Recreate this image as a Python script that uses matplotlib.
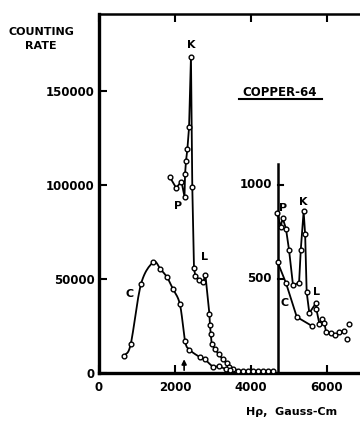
import numpy as np
import matplotlib
matplotlib.use("Agg")
import matplotlib.pyplot as plt

# ---------------- data ----------------
# main scale: counting rate vs H-rho (Gauss-cm)
main_c_x = [660, 835, 1105, 1430, 1615, 1790, 1945, 2130, 2265, 2380, 2650, 2790, 3000, 3160, 3330, 3450]
main_c_y = [9000, 15400, 47300, 58900, 55300, 50900, 44700, 36500, 17000, 12400, 8500, 7200, 3400, 3600, 2000, 1500]

main_k_x = [1870, 2030, 2170, 2250, 2265, 2290, 2325, 2370, 2420, 2455, 2500, 2535, 2640, 2745, 2800,
            2905, 2920, 2940, 2965, 3050, 3150, 3255, 3360, 3430, 3535, 3660, 3790, 3920, 4050, 4185,
            4315, 4445, 4580]
main_k_y = [104000, 98500, 101800, 93800, 105900, 112800, 119000, 130700, 168300, 99100, 55700, 51600,
            49500, 48600, 52100, 31500, 25500, 21000, 15600, 12600, 10100, 7300, 5200, 3000, 2000, 1200,
            1000, 1000, 1000, 1000, 1000, 1000, 1200]

# inset (expanded) scale
inset_k_x = [4690, 4780, 4835, 4920, 5000, 5105, 5265, 5310, 5385, 5425, 5465, 5535, 5710, 5720, 5800,
             5880, 5930, 5975, 6100, 6210, 6325, 6450]
inset_k_y = [850, 779, 823, 768, 656, 468, 479, 656, 860, 737, 430, 319, 372, 340, 261, 288, 267, 218,
             214, 200, 218, 223]
inset_extra_x = [6518, 6587]
inset_extra_y = [183, 258]
inset_c_x = [4700, 4920, 5205, 5615]
inset_c_y = [590, 479, 298, 249]

inset_scale = 100          # 1000 on the inset scale sits at 100000 of the main scale
inset_axis_x = 4700
inset_ticks = [500, 1000]
inset_top = 1110

x_ticks = [0, 2000, 4000, 6000]
y_ticks = [0, 50000, 100000, 150000]
arrow_x = 2240


def catmull_rom(xs, ys, n=12):
    xs = np.asarray(xs, float)
    ys = np.asarray(ys, float)
    px = np.concatenate([[2 * xs[0] - xs[1]], xs, [2 * xs[-1] - xs[-2]]])
    py = np.concatenate([[2 * ys[0] - ys[1]], ys, [2 * ys[-1] - ys[-2]]])
    outx, outy = [], []
    for i in range(1, len(px) - 2):
        t = np.linspace(0, 1, n, endpoint=False)
        for arr, out in ((px, outx), (py, outy)):
            p0, p1, p2, p3 = arr[i - 1], arr[i], arr[i + 1], arr[i + 2]
            out.extend(0.5 * ((2 * p1) + (-p0 + p2) * t + (2 * p0 - 5 * p1 + 4 * p2 - p3) * t ** 2
                              + (-p0 + 3 * p1 - 3 * p2 + p3) * t ** 3))
    outx.append(xs[-1])
    outy.append(ys[-1])
    return np.array(outx), np.array(outy)


plt.rcParams['font.family'] = ['DejaVu Sans']
plt.rcParams['font.weight'] = 'bold'

W, H = 360, 426
fig = plt.figure(figsize=(W / 100, H / 100), dpi=100)
fig.patch.set_facecolor('white')

left_px, right_px, top_px, bot_px = 99, 360, 14, 373
ax = fig.add_axes([left_px / W, 1 - bot_px / H, (right_px - left_px) / W, (bot_px - top_px) / H])
ax.set_xlim(0, (right_px - left_px) / 0.038)
ax.set_ylim(0, (bot_px - top_px) * 50000 / 94)

for s in ['left', 'bottom']:
    ax.spines[s].set_linewidth(2.4)
ax.spines['top'].set_linewidth(1.8)
ax.spines['right'].set_visible(False)

ax.set_xticks(x_ticks)
ax.set_xticklabels([str(v) for v in x_ticks])
ax.set_yticks(y_ticks)
ax.set_yticklabels([str(v) for v in y_ticks])
ax.tick_params(axis='both', direction='in', length=6, width=1.5, labelsize=8.5, top=True)
ax.tick_params(axis='x', pad=6)
ax.tick_params(axis='y', pad=3)
for lab in ax.get_xticklabels() + ax.get_yticklabels():
    lab.set_fontweight('bold')

lw = 1.3
mk = dict(marker='o', markersize=3.4, markerfacecolor='white', markeredgecolor='black', markeredgewidth=1.0)

# main C curve (smooth line)
sx, sy = catmull_rom(main_c_x, main_c_y)
ax.plot(sx, sy, color='black', lw=lw, zorder=3)
ax.plot(main_c_x, main_c_y, linestyle='none', zorder=4, **mk)

# main K/L curve
ax.plot(main_k_x, main_k_y, color='black', lw=lw, zorder=3, **mk)

# inset
ax.plot([inset_axis_x, inset_axis_x], [0, inset_top * inset_scale], color='black', lw=1.8, zorder=2)
for t in inset_ticks:
    ax.plot([inset_axis_x, inset_axis_x + 140], [t * inset_scale] * 2, color='black', lw=1.5)
    ax.text(inset_axis_x - 150, t * inset_scale, str(t), ha='right', va='center', fontsize=8.5,
            fontweight='bold')
ax.plot(inset_k_x, np.array(inset_k_y) * inset_scale, color='black', lw=lw, zorder=3, **mk)
ax.plot(inset_extra_x, np.array(inset_extra_y) * inset_scale, linestyle='none', zorder=3, **mk)
ax.plot(inset_c_x, np.array(inset_c_y) * inset_scale, color='black', lw=lw, zorder=3, **mk)

# arrow on the axis
ax.annotate('', xy=(arrow_x, 8800), xytext=(arrow_x, 0),
            arrowprops=dict(arrowstyle='-|>', color='black', lw=1.2, mutation_scale=7))

# curve labels
lab_kw = dict(fontsize=8, fontweight='bold', ha='center', va='center')
ax.text(2421, 174500, 'K', **lab_kw)
ax.text(2080, 88800, 'P', **lab_kw)
ax.text(2780, 61700, 'L', **lab_kw)
ax.text(797, 42000, 'C', **lab_kw)
ax.text(4850, 87900, 'P', **lab_kw)
ax.text(5376, 90700, 'K', **lab_kw)
ax.text(5728, 43000, 'L', **lab_kw)
ax.text(4895, 37500, 'C', **lab_kw)

# titles / annotations
fig.text(41 / W, 1 - 32 / H, 'COUNTING', ha='center', va='center', fontsize=8, fontweight='bold')
fig.text(41 / W, 1 - 46 / H, 'RATE', ha='center', va='center', fontsize=8, fontweight='bold')
fig.text(280 / W, 1 - 92 / H, 'COPPER-64', ha='center', va='center', fontsize=8.5, fontweight='bold')
fig.add_artist(plt.Line2D([239 / W, 322 / W], [1 - 99 / H, 1 - 99 / H], color='black', lw=1.5))
fig.text(292 / W, 1 - 412 / H, 'Hρ,  Gauss-Cm', ha='center', va='center', fontsize=8, fontweight='bold')

fig.savefig('out.png', dpi=100, facecolor='white')
